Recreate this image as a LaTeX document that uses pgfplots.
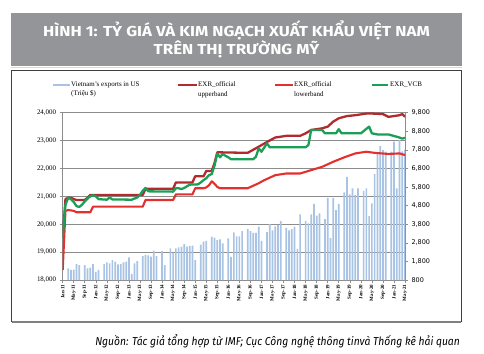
\documentclass[border=0pt]{standalone}
\usepackage{fontspec}
\setmainfont{Liberation Serif}
\newfontfamily\titlefont{Fira Sans}
\newfontfamily\dvs{DejaVu Sans}
\usepackage{pgfplots}
\pgfplotsset{compat=1.18}
\definecolor{band}{HTML}{939598}
\definecolor{barblue}{HTML}{A8C3E4}
\definecolor{upper}{HTML}{B22A2E}
\definecolor{lower}{HTML}{E2302E}
\definecolor{vcb}{HTML}{1B9E56}
\definecolor{axgray}{HTML}{8C8C8C}
\begin{document}
\begin{tikzpicture}[x=1bp,y=1bp]
\path (0,0) rectangle (484,353);
\fill[band] (11,287) rectangle (462,340);
\draw[black!15, line width=0.8bp] (11,285.2) -- (462,285.2);
\node[white, font=\titlefont\bfseries\fontsize{14.5}{18.4}\selectfont, align=center] at (236.5,313.5) {\scalebox{1.17}[1]{HÌNH 1: TỶ GIÁ VÀ KIM NGẠCH XUẤT KHẨU VIỆT NAM}\\\scalebox{1.17}[1]{TRÊN THỊ TRƯỜNG MỸ}};
\draw[black!75, line width=1bp] (11.5,31.5) rectangle (461,283);
\draw[black!50, line width=1.5bp] (11.5,31) -- (461,31);
% legend
\begin{scope}[font=\fontsize{7}{9.5}\selectfont]
\draw[barblue, line width=2.6bp] (53,268) -- (70,268);
\node[anchor=north west, align=left, inner sep=0pt] at (71,271.5) {Vietnam's exports in US\\(Triệu \$)};
\draw[upper, line width=2bp] (178,268) -- (197,268);
\node[anchor=north west, align=left, inner sep=0pt] at (198,271.5) {EXR\_official\\upperband};
\draw[lower, line width=2bp] (275,268) -- (293,268);
\node[anchor=north west, align=left, inner sep=0pt] at (294,271.5) {EXR\_official\\lowerband};
\draw[vcb, line width=2bp] (372,268) -- (388,268);
\node[anchor=north west, align=left, inner sep=0pt] at (390,271.5) {EXR\_VCB};
\end{scope}
\node[anchor=base east, font=\titlefont\itshape\fontsize{11.5}{12}\selectfont, inner sep=0pt] at (460,8) {\scalebox{0.9}[1]{Nguồn: Tác giả tổng hợp từ IMF; Cục Công nghệ thông tinvà Thống kê hải quan}};

\pgfplotsset{every axis/.append style={scale only axis, width=342.3bp, height=167.3bp, at={(62.7bp,73bp)}, anchor=south west, xmin=0, xmax=124, scaled y ticks=false}}
% axis 1: left scale, grid, x labels
\begin{axis}[ymin=18000, ymax=24000, ytick={18000,19000,...,24000},
  axis x line*=bottom, axis y line*=left,
  axis line style={axgray, line width=0.8bp, -},
  ymajorgrids, grid style={axgray, line width=0.7bp},
  tick style={axgray, line width=0.6bp}, tick align=outside, major tick length=3bp,
  xtick={0,4,...,124},
  xticklabels={Jan-11,May-11,Sep-11,Jan-12,May-12,Sep-12,Jan-13,May-13,Sep-13,Jan-14,May-14,Sep-14,Jan-15,May-15,Sep-15,Jan-16,May-16,Sep-16,Jan-17,May-17,Sep-17,Jan-18,May-18,Sep-18,Jan-19,May-19,Sep-19,Jan-20,May-20,Sep-20,Jan-21,May-21},
  x tick label style={rotate=90, anchor=east, font=\bfseries\fontsize{5}{5}\selectfont, inner sep=1.5bp},
  y tick label style={font=\fontsize{7}{7}\selectfont, /pgf/number format/1000 sep={,}, /pgf/number format/assume math mode=true},
]
\addplot[draw=none] coordinates {(0,18000)};
\end{axis}
% axis 2: bars, right scale
\begin{axis}[ymin=800, ymax=9800, ytick={800,1800,...,9800},
  axis y line*=right, axis x line=none,
  axis line style={axgray, line width=0.8bp, -},
  tick style={axgray, line width=0.6bp}, tick align=outside, major tick length=3bp,
  y tick label style={font=\dvs\fontsize{6.5}{7}\selectfont, /pgf/number format/1000 sep={,}, /pgf/number format/assume math mode=true},
  ybar, bar width=1.7bp,
]
\addplot[fill=barblue, draw=none] coordinates {
(2,1430)(3,1340)(4,1360)(5,1660)(6,1600)(8,1600)(9,1430)(10,1470)(11,1660)(12,1240)(13,1340)
(15,1660)(16,1750)(17,1700)(18,1875)(19,1790)(20,1640)(21,1660)(22,1750)(23,1790)(24,2020)(25,1130)
(26,1700)(27,1820)(29,2090)(30,2150)(31,2130)(32,2060)(33,2380)(34,2090)(36,2360)(37,1600)(39,2500)
(40,2270)(41,2500)(42,2560)(43,2590)(44,2730)(45,2590)(46,2630)(47,2650)(48,1870)(50,2700)(51,2860)
(52,2900)(54,3130)(55,3080)(56,2950)(57,2990)(58,2770)(60,3040)(61,2050)(62,3360)(63,3150)(64,3150)
(65,3430)(67,3540)(68,3430)(69,3330)(70,3330)(71,3670)(72,2900)(74,3380)(75,3810)(76,3470)(77,3690)
(78,3760)(79,3970)(81,3600)(82,3470)(83,3540)(84,3670)(85,2470)(86,4330)(88,3970)(89,3850)(90,4330)
(91,4890)(92,4260)(93,4390)(95,4080)(96,5220)(97,3070)(98,5220)(99,4560)(100,4890)(102,5510)(103,6350)
(104,5410)(105,5730)(106,5370)(107,5730)(109,5600)(110,5730)(111,4240)(112,4920)(113,6500)(114,7610)
(115,8000)(116,7790)(117,7700)(119,7700)(120,8240)(121,5730)(122,8330)(123,7720)(124,7810)};
\end{axis}
% axis 3: lines
\begin{axis}[ymin=18000, ymax=24000, hide axis]
\addplot[upper, line width=2.3bp, line join=round] coordinates {
(0,19500)(1,20900)(2,20950)(3,20950)(4,20900)(5,20870)(8,20870)(9,20950)(10,21050)(29,21050)(30,21270)
(40,21270)(41,21500)(47,21500)(48,21720)(51,21720)(52,21910)(54,21910)(55,22200)(56,22580)(67,22560)
(71,22780)(74,22950)(77,23110)(81,23170)(86,23170)(88,23260)(90,23380)(94,23440)(96,23500)(98,23680)
(100,23800)(103,23880)(106,23910)(110,23970)(112,23970)(116,23950)(118,23850)(122,23910)(123,23950)(124,23850)};
\addplot[lower, line width=2.1bp, line join=round] coordinates {
(0,18360)(1,20480)(2,20510)(4,20480)(5,20430)(10,20430)(11,20630)(29,20630)(30,20870)(40,20870)
(41,21070)(47,21070)(48,21290)(51,21290)(52,21320)(53,21400)(54,21540)(55,21450)(56,21340)(57,21290)
(67,21290)(71,21470)(73,21580)(77,21760)(81,21820)(86,21820)(90,21940)(94,22060)(98,22240)(102,22400)
(106,22540)(110,22600)(113,22560)(118,22520)(122,22540)(124,22480)};
\addplot[vcb, line width=2.3bp, line join=round] coordinates {
(0,19550)(1,20700)(2,20950)(3,20900)(4,20800)(5,20650)(6,20620)(7,20700)(8,20820)(9,20920)(10,21000)
(11,21040)(12,21000)(13,20900)(16,20880)(17,20960)(18,20890)(25,20880)(26,20920)(27,20960)(28,21050)
(29,21200)(30,21300)(31,21180)(40,21170)(41,21290)(42,21290)(43,21260)(44,21300)(45,21360)(46,21420)
(49,21430)(50,21500)(51,21580)(52,21650)(53,21760)(54,21800)(55,22100)(56,22540)(57,22400)(58,22520)
(59,22450)(60,22400)(61,22330)(69,22330)(70,22420)(71,22720)(72,22600)(74,22900)(75,22760)(88,22760)
(89,22840)(90,23380)(94,23380)(95,23260)(99,23260)(100,23410)(101,23260)(108,23260)(111,23500)(112,23260)
(114,23220)(118,23220)(122,23110)(123,23070)(124,23100)};
\end{axis}
\end{tikzpicture}
\end{document}
